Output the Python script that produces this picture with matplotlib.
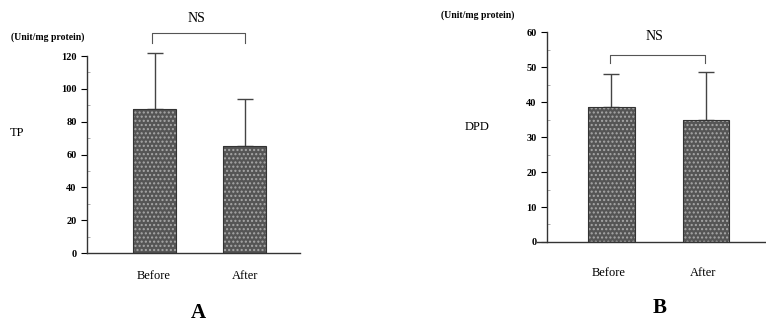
import numpy as np
import matplotlib
matplotlib.use("Agg")
import matplotlib.pyplot as plt

plt.rcParams['font.family'] = ['Liberation Serif', 'DejaVu Serif']

groups = ['Before', 'After']
tp_mean = [88, 65]
tp_sd = [34, 29]
dpd_mean = [38.5, 35]
dpd_sd = [9.5, 13.5]

fig = plt.figure(figsize=(7.66, 3.25), dpi=100)

def panel(rect, mean, sd, ymax, step, minor, xlim, bw):
    ax = fig.add_axes(rect)
    x = np.arange(len(mean))
    ax.bar(x, mean, width=bw, color='#555555', hatch='....', edgecolor='#a8a8a8', linewidth=0, zorder=2)
    ax.bar(x, mean, width=bw, color='none', edgecolor='#333333', linewidth=0.8, zorder=3)
    eb = ax.errorbar(x, mean, yerr=[np.zeros(len(sd)), sd], fmt='none', ecolor='#444444',
                     elinewidth=1.0, capsize=6, capthick=1.0, zorder=1)
    for art in eb.lines[1] + eb.lines[2]:
        art.set_clip_on(False)
    ax.set_ylim(0, ymax)
    ax.set_xlim(*xlim)
    ax.set_yticks(np.arange(0, ymax + 1, step))
    ax.set_yticks(np.arange(0, ymax + 1, minor), minor=True)
    ax.tick_params(axis='y', which='major', direction='out', length=4, labelsize=7.5, width=0.8)
    ax.tick_params(axis='y', which='minor', direction='in', length=2, width=0.5, color='#888888')
    for lab in ax.get_yticklabels():
        lab.set_fontweight('bold')
    ax.set_xticks([])
    for s in ['top', 'right']:
        ax.spines[s].set_visible(False)
    for s in ['left', 'bottom']:
        ax.spines[s].set_linewidth(1.0)
        ax.spines[s].set_color('#333333')
    return ax

axA = panel([0.1136, 0.2215, 0.278, 0.606], tp_mean, tp_sd, 120, 20, 10,
            (-0.746, 1.608), 0.475)
axB = panel([0.714, 0.2554, 0.286, 0.646], dpd_mean, dpd_sd, 60, 10, 5,
            (-0.683, 1.635), 0.49)
axB.spines['bottom'].set_bounds(-0.79, 1.635)
axB.spines['bottom'].set_clip_on(False)

H = 325.0
W = 766.0

def bracket(x0, x1, ytop, ybot, tx, ty):
    fig.add_artist(plt.Line2D([x0, x0, x1, x1], [ybot, ytop, ytop, ybot],
                              transform=fig.transFigure, color='#555555', lw=0.8))
    fig.text(tx, ty, 'NS', ha='center', va='center', fontsize=10)

bracket(152 / W, 245 / W, 1 - 33 / H, 1 - 43 / H, 196 / W, 1 - 18 / H)
bracket(610 / W, 705 / W, 1 - 55 / H, 1 - 63 / H, 654 / W, 1 - 37 / H)

fig.text(48 / W, 1 - 37 / H, '(Unit/mg protein)', ha='center', va='center', fontsize=7, fontweight='bold')
fig.text(478 / W, 1 - 15 / H, '(Unit/mg protein)', ha='center', va='center', fontsize=7, fontweight='bold')
fig.text(17 / W, 1 - 133 / H, 'TP', ha='center', va='center', fontsize=9)
fig.text(477 / W, 1 - 127 / H, 'DPD', ha='center', va='center', fontsize=9)

for xc, lab in zip([154, 245], groups):
    fig.text(xc / W, 1 - 276 / H, lab, ha='center', va='center', fontsize=9)
for xc, lab in zip([609, 703], groups):
    fig.text(xc / W, 1 - 273 / H, lab, ha='center', va='center', fontsize=9)

fig.text(198 / W, 1 - 313 / H, 'A', ha='center', va='center', fontsize=15, fontweight='bold')
fig.text(660 / W, 1 - 308 / H, 'B', ha='center', va='center', fontsize=15, fontweight='bold')

fig.savefig('out.png', dpi=100)
